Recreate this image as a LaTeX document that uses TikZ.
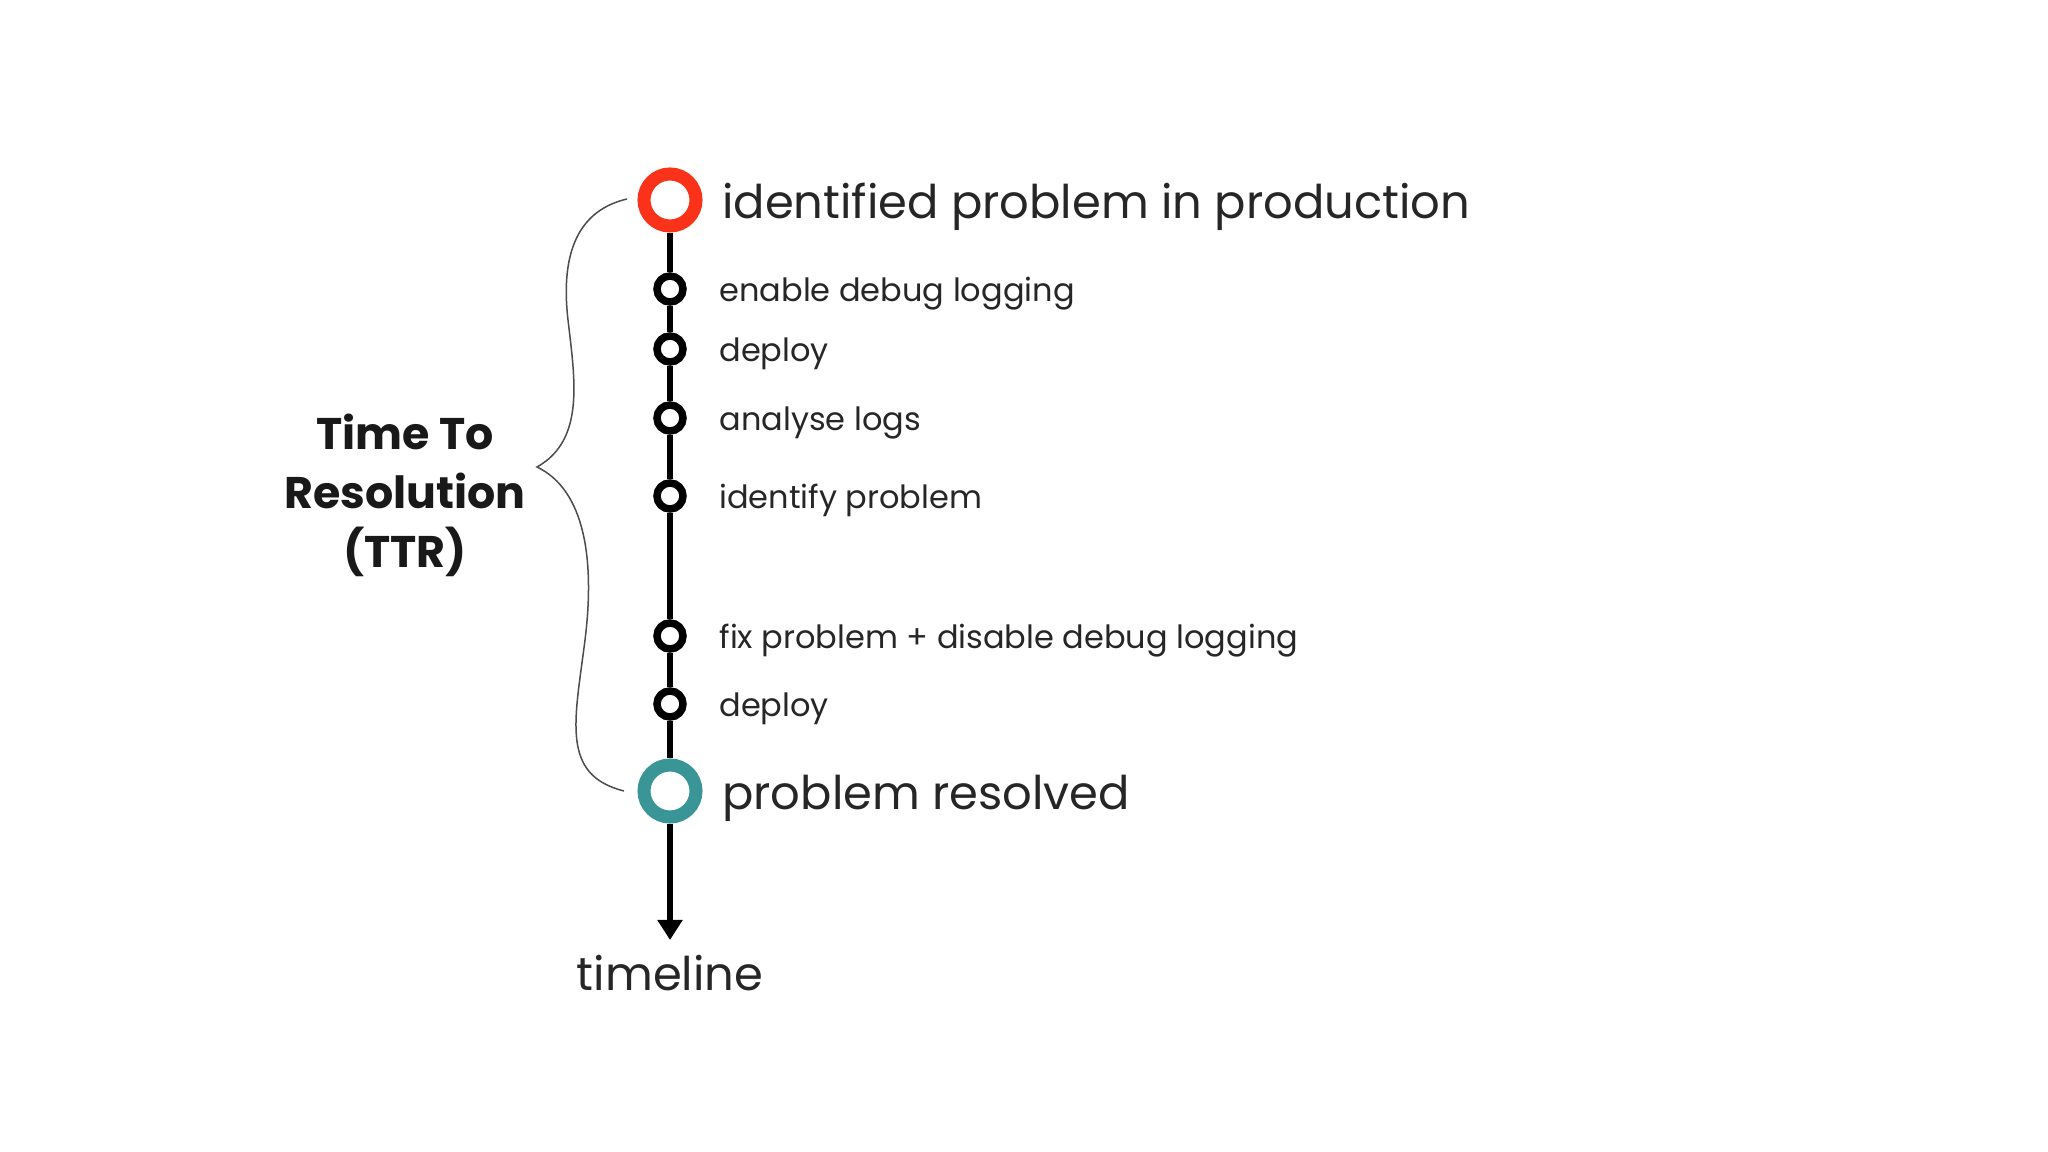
\documentclass[tikz,border=0pt]{standalone}
\usepackage{fontspec}
\setmainfont{Poppins}
\usetikzlibrary{positioning,arrows.meta}
\definecolor{startred}{HTML}{FA3219}
\definecolor{endteal}{HTML}{3A9696}

\begin{document}
\begin{tikzpicture}[
      x=0.01cm, y=-0.01cm,
      ring/.style={circle, draw, fill=white, line width=0.75mm, minimum size=2.6mm, inner sep=0pt},
      bigring/.style={circle, draw, fill=white, line width=1.3mm, minimum size=5.2mm, inner sep=0pt},
      spine/.style={line width=0.65mm},
      lbl/.style={inner sep=0pt, yshift=-0.3mm, font=\fontsize{9.1}{11}\selectfont, text=black!85},
      biglbl/.style={inner sep=0pt, yshift=-0.9mm, font=\fontsize{13.2}{15}\selectfont, text=black!85},
      brace/.style={draw=black!70, line width=0.15mm},
    ]
    \useasboundingbox (0,0) rectangle (2048,1152);

    \node[bigring, draw=startred] (idp) at (670,200) {};
    \node[ring] (s1) at (670,289) {};
    \node[ring] (s2) at (670,349) {};
    \node[ring] (s3) at (670,418) {};
    \node[ring] (s4) at (670,496) {};
    \node[ring] (s5) at (670,636) {};
    \node[ring] (s6) at (670,704) {};
    \node[bigring, draw=endteal] (res) at (670,791) {};
    \coordinate (tip) at (670,940);

    \draw[spine] (idp) -- (s1) -- (s2) -- (s3) -- (s4) -- (s5) -- (s6) -- (res);
    \draw[spine, -{Triangle[length=2mm, width=2.4mm]}] (res) -- (tip);

    \node[biglbl, right=1.9mm of idp, anchor=mid west] (idpl) {identified problem in production};
    \node[lbl, right=3.2mm of s1, anchor=mid west] (s1l) {enable debug logging};
    \node[lbl, right=3.2mm of s2, anchor=mid west] (s2l) {deploy};
    \node[lbl, right=3.2mm of s3, anchor=mid west] (s3l) {analyse logs};
    \node[lbl, right=3.2mm of s4, anchor=mid west] (s4l) {identify problem};
    \node[lbl, right=3.2mm of s5, anchor=mid west] (s5l) {fix problem + disable debug logging};
    \node[lbl, right=3.2mm of s6, anchor=mid west] (s6l) {deploy};
    \node[biglbl, right=1.9mm of res, anchor=mid west] (resl) {problem resolved};

    \node[biglbl, anchor=mid] (tl) at (670,972) {timeline};

    \node[align=center, font=\fontsize{12.6}{16.8}\selectfont\bfseries, text=black!90] (ttr) at (405,495)
      {Time To\\Resolution\\(TTR)};

    % curly brace spanning the resolution period
    \draw[brace] (627,199) .. controls (580,210) and (560,250) .. (568,320)
      .. controls (575,380) and (585,440) .. (537,467)
      .. controls (585,490) and (595,560) .. (585,640)
      .. controls (575,720) and (560,775) .. (624,791);
\end{tikzpicture}
\end{document}
